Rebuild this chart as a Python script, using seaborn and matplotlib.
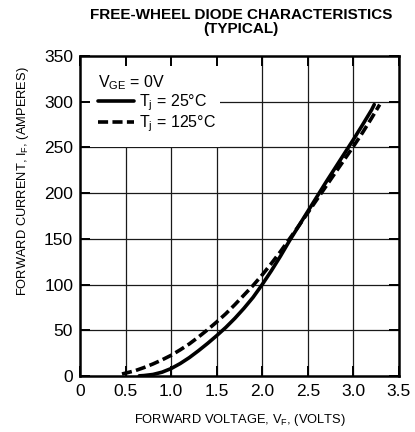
import numpy as np
import pandas as pd
import seaborn as sns
import matplotlib.pyplot as plt
from matplotlib.patches import Rectangle

# forward characteristics
vf_25 = [0.65, 0.70, 0.80, 0.90, 1.00, 1.10, 1.20, 1.30, 1.40, 1.50, 1.60, 1.70,
         1.80, 1.90, 2.00, 2.10, 2.20, 2.30, 2.40, 2.50, 2.60, 2.70, 2.80, 2.90,
         3.00, 3.10, 3.20, 3.23]
if_25 = [0.0, 0.3, 1.5, 4.0, 8.0, 13.5, 20.0, 27.5, 35.5, 44.0, 53.0, 63.0,
         74.0, 86.0, 100.0, 115.0, 131.0, 148.0, 164.0, 180.0, 196.0, 212.0,
         227.5, 243.0, 258.5, 274.5, 291.0, 297.0]

vf_125 = [0.46, 0.50, 0.60, 0.70, 0.80, 0.90, 1.00, 1.10, 1.20, 1.30, 1.40,
          1.50, 1.60, 1.70, 1.80, 1.90, 2.00, 2.10, 2.20, 2.30, 2.40, 2.50,
          2.60, 2.70, 2.80, 2.90, 3.00, 3.10, 3.20, 3.29]
if_125 = [2.0, 3.0, 5.5, 9.0, 13.0, 17.5, 22.5, 28.5, 35.0, 42.5, 50.5,
          59.0, 68.0, 78.0, 88.5, 99.0, 110.5, 123.0, 136.0, 150.0, 164.0,
          178.5, 193.0, 207.5, 222.0, 236.5, 251.0, 266.0, 282.0, 297.0]

x_ticks = [0, 0.5, 1.0, 1.5, 2.0, 2.5, 3.0, 3.5]
x_labels = ["0", "0.5", "1.0", "1.5", "2.0", "2.5", "3.0", "3.5"]
y_ticks = [0, 50, 100, 150, 200, 250, 300, 350]

sns.set_style("ticks")
plt.rcParams['font.family'] = ['Liberation Sans', 'DejaVu Sans']
plt.rcParams['mathtext.fontset'] = 'custom'
plt.rcParams['mathtext.rm'] = 'Liberation Sans'
plt.rcParams['mathtext.it'] = 'Liberation Sans'
plt.rcParams['text.color'] = 'black'
plt.rcParams['axes.labelcolor'] = 'black'
plt.rcParams['xtick.color'] = 'black'
plt.rcParams['ytick.color'] = 'black'
plt.rcParams['axes.edgecolor'] = 'black'

fig = plt.figure(figsize=(4.15, 4.32), dpi=100)
ax = fig.add_axes([0.193, 0.130, 0.768, 0.740])

df25 = pd.DataFrame({"VF": vf_25, "IF": if_25})
df125 = pd.DataFrame({"VF": vf_125, "IF": if_125})

sns.lineplot(data=df25, x="VF", y="IF", ax=ax, color="black", lw=2.6,
             label=r"T$_\mathregular{j}$ = 25°C", zorder=3)
sns.lineplot(data=df125, x="VF", y="IF", ax=ax, color="black", lw=2.6,
             label=r"T$_\mathregular{j}$ = 125°C", zorder=3)
ax.lines[1].set_dashes([2.8, 1.2])

# grid drawn under a white legend block, ticks stay on top
ax.vlines(x_ticks[1:-1], 0, 350, color="#1a1a1a", lw=0.9, zorder=0.6)
ax.hlines(y_ticks[1:-1], 0, 3.5, color="#1a1a1a", lw=0.9, zorder=0.6)
ax.add_patch(Rectangle((0, 250.5), 1.54, 99.5, facecolor="white",
                       edgecolor="none", zorder=1))
ax.set_axisbelow(False)

ax.set_xlim(0, 3.5)
ax.set_ylim(0, 350)
ax.set_xticks(x_ticks)
ax.set_xticklabels(x_labels)
ax.set_yticks(y_ticks)
ax.tick_params(direction="in", length=7, width=1.4, labelsize=12.5,
               top=True, right=True)
ax.tick_params(axis="x", pad=6)
ax.tick_params(axis="y", pad=5)
for s in ax.spines.values():
    s.set_linewidth(1.8)
    s.set_visible(True)

leg = ax.legend(loc="upper left", frameon=False, fontsize=11.5,
                title=r"V$_\mathregular{GE}$ = 0V", title_fontsize=11.5,
                handlelength=2.3, handletextpad=0.3, borderaxespad=0.8,
                borderpad=0.3, labelspacing=0.02, alignment="left")
leg.set_zorder(4)

ax.set_xlabel(r"FORWARD VOLTAGE, V$_\mathregular{F}$, (VOLTS)", fontsize=9.3)
ax.set_ylabel(r"FORWARD CURRENT, I$_\mathregular{F}$, (AMPERES)", fontsize=9.3)
ax.xaxis.set_label_coords(0.5, -0.112)
ax.yaxis.set_label_coords(-0.155, 0.61)

fig.text(0.58, 0.982, "FREE-WHEEL DIODE CHARACTERISTICS\n(TYPICAL)",
         ha="center", va="top", fontsize=11, fontweight="bold",
         linespacing=1.05)

plt.savefig("out.png", dpi=100)
